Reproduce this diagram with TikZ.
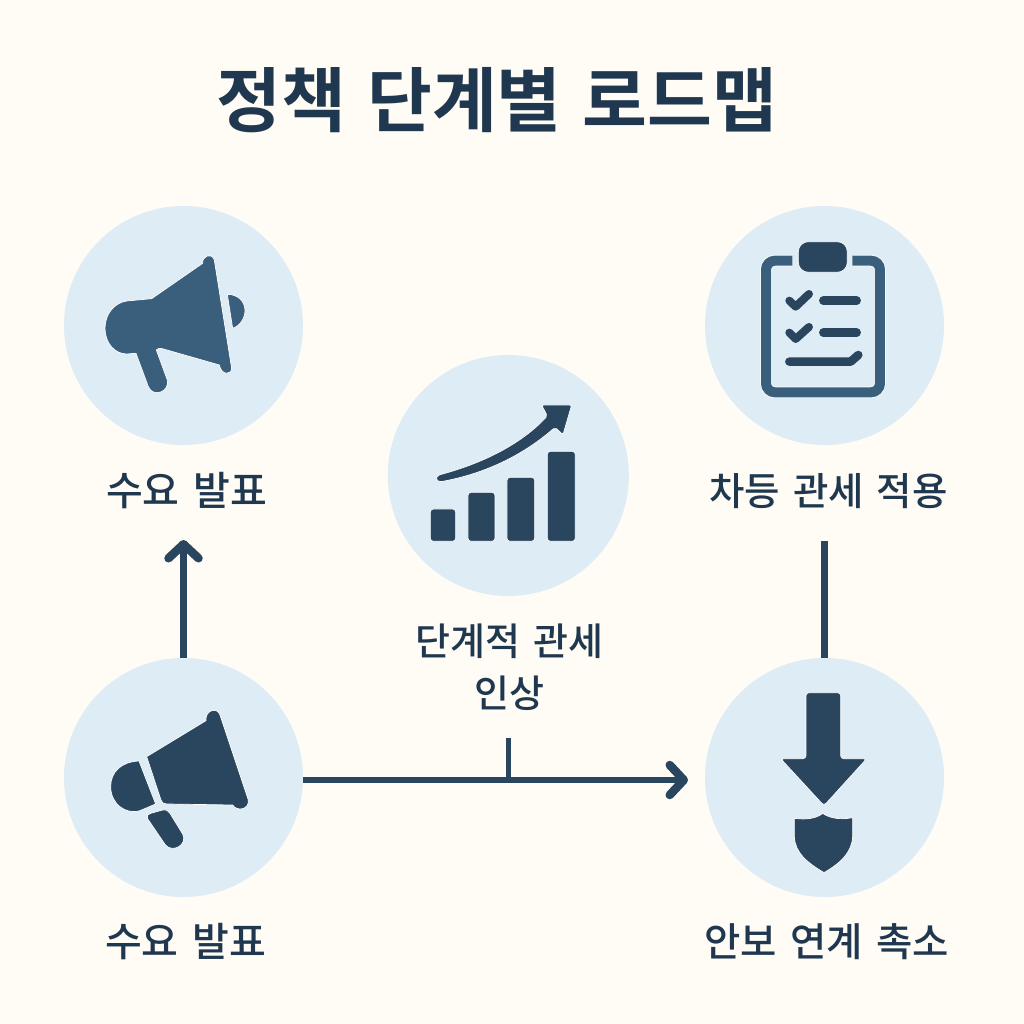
\documentclass[tikz,border=0pt]{standalone}
\usepackage{fontspec}
\usetikzlibrary{arrows.meta}
\setmainfont{Noto Sans CJK KR}
\newfontfamily\titlefont{Noto Sans CJK KR Bold}[WordSpace=1.3]
\newfontfamily\labelfont{Noto Sans CJK KR Medium}[WordSpace=1.5]
\definecolor{paper}{HTML}{FFFCF5}
\definecolor{disc}{HTML}{DDECF5}
\definecolor{ink}{HTML}{2A465F}
\definecolor{inkmid}{HTML}{3A5F7D}
\definecolor{textink}{HTML}{1F3850}
\tikzset{
  discnode/.style={circle,fill=disc,minimum size=239pt,inner sep=0pt},
  lab/.style={text=textink,font=\labelfont\fontsize{#1}{#1}\selectfont,inner sep=0pt,anchor=center},
  conn/.style={draw=ink,line width=6.5pt},
  chev/.style={-{Straight Barb[round,length=14pt,width=30pt,line width=8.5pt]}},
  solid ink/.style={fill=ink,draw=white,line width=0.7pt,line join=round},
  solid mid/.style={fill=inkmid,draw=white,line width=0.7pt,line join=round},
  zoomA/.style={x=0.3333pt,y=-0.3333pt},
  stroke ink/.style={draw=ink,line cap=round,line join=round}
}
\begin{document}
\begin{tikzpicture}[x=1pt,y=-1pt]
\useasboundingbox (0,0) rectangle (1024,1024);
\fill[paper] (0,0) rectangle (1024,1024);
\node[text=textink,font=\titlefont\fontsize{70.5}{80}\selectfont,inner sep=0pt] (title) at (497,100) {정책 단계별 로드맵};
% discs
\node[discnode] (dTL) at (183.5,325.5) {};
\node[discnode] (dTR) at (824.5,325.5) {};
\node[discnode] (dBL) at (183.5,777.5) {};
\node[discnode] (dBR) at (824.5,777.5) {};
\node[discnode,minimum size=241pt] (dC) at (508.3,475.5) {};
% labels
\node[lab=40] (lTL) at (186.5,491) {수요 발표};
\node[lab=38.5] (lTR) at (828.5,491) {차등 관세 적용};
\node[lab=38] (lC1) at (509.5,641) {단계적 관세};
\node[lab=38] (lC2) at (509,693) {인상};
\node[lab=40] (lBL) at (185.5,942) {수요 발표};
\node[lab=39.5] (lBR) at (826.5,942) {안보 연계 촉소};
% connectors
\coordinate (tipUp) at (183.5,540);
\coordinate (tipRight) at (688,780);
\coordinate (lineTop) at (824.5,541);
\coordinate (tickBase) at (508,780);
\coordinate (tickTop) at (508,738);
\draw[conn,chev] (dBL.north) -- (tipUp);
\draw[conn,chev] (dBL.east |- tipRight) -- (tipRight);
\draw[conn] (lineTop) -- (dTR.south |- dBR.north);
\draw[draw=ink,line width=5pt] (tickBase) -- (tickTop);
% megaphone top-left
\begin{scope}[shift={(60,200)},zoomA]
\path[solid mid,fill=inkmid] (428,190) .. controls (425,170) and (455,155) .. (463,180) -- (515,505) .. controls (515,525) and (485,528) .. (478,495) -- (310,447) .. controls (300,444) and (292,444) .. (289,450) -- (322,540) .. controls (330,575) and (280,595) .. (265,560) -- (228,460) -- (200,462) .. controls (165,462) and (135,430) .. (135,385) .. controls (135,340) and (165,308) .. (200,303) -- (275,296) -- cycle;
\path[solid mid] (502,283) .. controls (535,283) and (555,305) .. (555,332) .. controls (555,355) and (540,378) .. (518,385) -- cycle;
\end{scope}
% clipboard
\begin{scope}[shift={(700,200)},zoomA]
\draw[draw=white,line width=11.5pt,rounded corners=9pt] (277,182) -- (198,182) -- (198,577) -- (540,577) -- (540,182) -- (457,182);
\draw[draw=inkmid,line width=10pt,rounded corners=9pt] (277,182) -- (198,182) -- (198,577) -- (540,577) -- (540,182) -- (457,182);
\path[solid ink,rounded corners=10pt] (295,125) rectangle (442,217);
\draw[stroke ink,line width=8pt] (268,302) -- (287,320) -- (327,282);
\draw[stroke ink,line width=8pt] (268,398) -- (287,417) -- (327,381);
\draw[stroke ink,line width=8.5pt] (370,302) -- (470,302);
\draw[stroke ink,line width=8.5pt] (370,398) -- (470,398);
\draw[stroke ink,line width=8.5pt] (268,485) -- (452,485) -- (475,465);
\end{scope}
% megaphone bottom-left
\begin{scope}[shift={(60,650)},zoomA]
\path[solid ink] (260,320) -- (438,212) .. controls (435,180) and (472,170) .. (480,195) -- (565,450) .. controls (568,480) and (530,485) .. (518,465) -- (320,462) .. controls (310,462) and (306,458) .. (303,450) -- cycle;
\path[solid ink] (237,333) -- (287,462) -- (240,482) .. controls (195,495) and (152,460) .. (152,410) .. controls (152,365) and (185,335) .. (237,333) -- cycle;
\path[solid ink] (262,505) .. controls (258,497) and (265,492) .. (272,490) -- (308,480) .. controls (318,478) and (325,482) .. (330,490) -- (368,552) .. controls (385,585) and (335,612) .. (315,583) -- cycle;
\end{scope}
% arrow and shield
\begin{scope}[shift={(700,650)},zoomA]
\path[solid ink,rounded corners=3pt] (318,128) -- (422,128) -- (422,326) -- (500,326) -- (372,467) -- (242,326) -- (318,326) -- cycle;
\path[solid ink] (283,505) .. controls (320,510) and (350,505) .. (368,490) .. controls (390,505) and (420,510) .. (458,503) -- (458,560) .. controls (455,610) and (420,640) .. (372,668) .. controls (325,640) and (285,610) .. (283,560) -- cycle;
\end{scope}
% bars and trend
\begin{scope}[shift={(385,350)},zoomA]
\path[solid ink,rounded corners=3pt] (136,477) rectangle (212,574);
\path[solid ink,rounded corners=3pt] (249,427) rectangle (330,574);
\path[solid ink,rounded corners=3pt] (366,382) rectangle (449,574);
\path[solid ink,rounded corners=3pt] (487,304) rectangle (571,574);
\path[solid ink,rounded corners=2pt] (158,376) .. controls (300,338) and (410,280) .. (487,198) -- (470,165) -- (560,165) -- (534,254) -- (510,232) .. controls (400,328) and (280,375) .. (163,396) -- (152,388) -- cycle;
\end{scope}
\end{tikzpicture}
\end{document}
